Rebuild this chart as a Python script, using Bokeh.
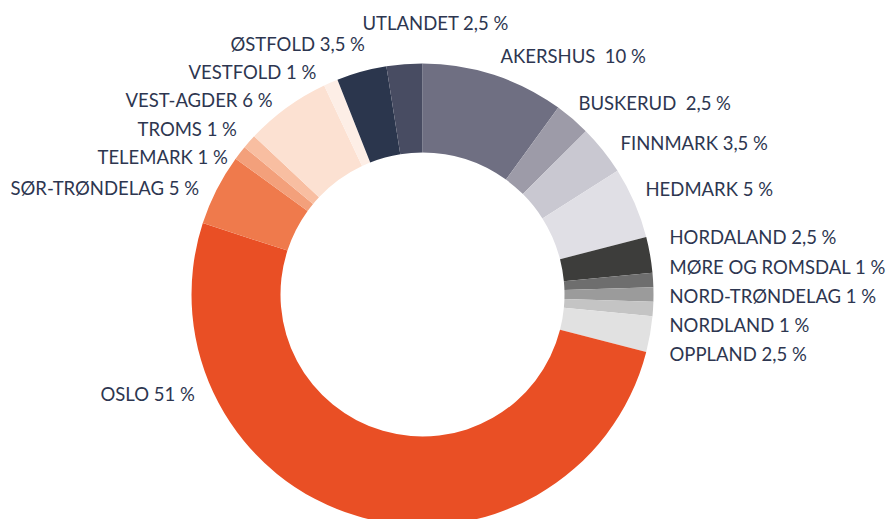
import math
from bokeh.plotting import figure
from bokeh.models import ColumnDataSource, Range1d
from bokeh.core.properties import value
from bokeh.embed import file_html
from bokeh.resources import INLINE

# --- data ---
regions = ["AKERSHUS", "BUSKERUD", "FINNMARK", "HEDMARK", "HORDALAND",
           "MØRE OG ROMSDAL", "NORD-TRØNDELAG", "NORDLAND", "OPPLAND", "OSLO",
           "SØR-TRØNDELAG", "TELEMARK", "TROMS", "VEST-AGDER", "VESTFOLD",
           "ØSTFOLD", "UTLANDET"]
shares = [10, 2.5, 3.5, 5, 2.5, 1, 1, 1, 2.5, 51, 5, 1, 1, 6, 1, 3.5, 2.5]
colors = ["#6f6f82", "#9d9ba8", "#c9c8d1", "#e0dfe5", "#3d3d3b",
          "#6e6e6e", "#9b9b9b", "#c4c4c4", "#e1e1e1", "#e94f25",
          "#ef7a4c", "#f3a07b", "#f8bea1", "#fce1d2", "#fdeee6",
          "#2b364d", "#484c62"]

# label layout (screen pixel positions: left edge, vertical middle)
label_px = [500, 578, 620, 645, 669, 669, 669, 669, 669, 100,
            10, 97, 137, 125, 188, 230, 362]
label_py = [55, 102, 142, 188, 236, 266, 295, 324, 353, 393,
            187, 156, 128, 99, 71, 43, 22]

W, H = 891, 519
cx, cy = 422, H - 294
r_out, r_in = 231, 142

def fmt(v):
    s = ("%g" % v).replace(".", ",")
    return s + " %"

total = sum(shares)
starts, ends = [], []
acc = 0.0
for v in shares:
    starts.append(math.pi / 2 - 2 * math.pi * acc / total)
    acc += v
    ends.append(math.pi / 2 - 2 * math.pi * acc / total)

wedges = ColumnDataSource(dict(start=starts, end=ends, color=colors, region=regions))

sep = ["\u00a0 " if r in ("AKERSHUS", "BUSKERUD") else " " for r in regions]
labels = ColumnDataSource(dict(
    x=label_px,
    y=[H - py for py in label_py],
    text=[r + s + fmt(v) for r, s, v in zip(regions, sep, shares)],
))

p = figure(width=W, height=H, output_backend="svg", toolbar_location=None,
           x_range=Range1d(0, W), y_range=Range1d(0, H),
           min_border=0, outline_line_color=None)
p.axis.visible = False
p.grid.visible = False
p.background_fill_color = "white"

p.annular_wedge(x=cx, y=cy, inner_radius=r_in, outer_radius=r_out,
                start_angle="start", end_angle="end", direction="clock",
                fill_color="color", line_color=None, source=wedges)

p.text(x="x", y="y", text="text", source=labels,
       text_font=value("Lato"), text_font_size="18.5px",
       text_color="#2d3650", text_align="left", text_baseline="middle")

open("out.html", "w").write(file_html(p, INLINE))
